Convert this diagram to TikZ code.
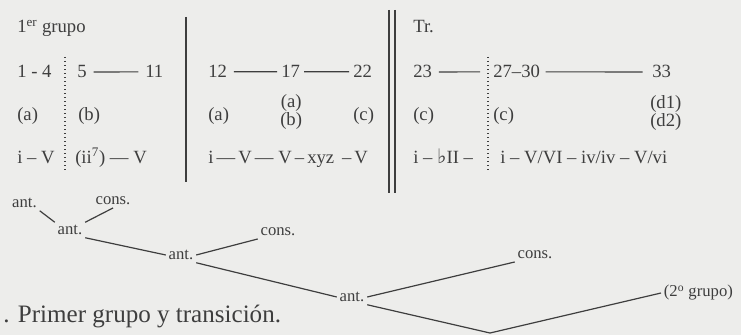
\documentclass[tikz,border=0pt]{standalone}
\usepackage{fontspec}
\setmainfont{Liberation Serif}
\newfontfamily\symfont{DejaVu Serif}
\definecolor{ink}{HTML}{3E3E3E}
\definecolor{bg}{HTML}{EDEDEB}
\begin{document}
\begin{tikzpicture}[x=0.75pt,y=-0.75pt,
  txt/.style={text=ink, inner sep=0pt, anchor=base west, font=\fontsize{14}{16}\selectfont},
  stack/.style={text=ink, inner sep=0pt, anchor=north west, align=center, font=\fontsize{14}{10}\selectfont},
  lbl/.style={text=ink, inner sep=2pt, font=\fontsize{12.5}{14}\selectfont},
  captxt/.style={text=ink, inner sep=0pt, anchor=base west, font=\fontsize{18.8}{20}\selectfont},
  rule/.style={draw=ink, line width=0.9pt},
  dots/.style={draw=ink, line width=1pt, dotted},
  tree/.style={draw=ink, line width=0.9pt}]
\fill[bg] (0,0) rectangle (741,335);
\useasboundingbox (0,0) rectangle (741,335);
% separators
\draw[dots] (65,57) -- (65,172);
\draw[rule] (186,17) -- (186,182);
\draw[rule] (389,10) -- (389,193);
\draw[rule] (395,10) -- (395,193);
\draw[dots] (488,57) -- (488,172);
% column 1
\node[txt] (g1) at (17,33) {1\textsuperscript{er} grupo};
\node[txt] (n14) at (17,78) {1 - 4};
\node[txt] (n5) at (77,78) {5};
\node[txt] (n11) at (145,78) {11};
\draw[rule, shorten <=5pt, shorten >=5pt] (n5.east) -- (n11.west);
\node[txt] (a1) at (17,120) {(a)};
\node[txt] (b1) at (78,120) {(b)};
\node[txt] (r41) at (17,163) {i -- V};
\node[txt] (r41b) at (75,163) {(ii\textsuperscript{7}) --- V};
% column 2
\node[txt] (n12) at (208,78) {12};
\node[txt] (n17) at (281,78) {17};
\node[txt] (n22) at (353,78) {22};
\draw[rule, shorten <=5pt, shorten >=3pt] (n12.east) -- (n17.west);
\draw[rule, shorten <=3pt, shorten >=3pt] (n17.east) -- (n22.west);
\node[txt] (a2) at (208,120) {(a)};
\node[stack] (ab2) at (280,94) {(a)\\(b)};
\node[txt] (c2) at (353,120) {(c)};
\node[txt] (r42) at (208,163) {i\,---\,V\,--- V\,--\,xyz \,--\,V};
% column 3
\node[txt] (tr) at (413,33) {Tr.};
\node[txt] (n23) at (413,78) {23};
\node[txt] (n2730) at (493,78) {27--30};
\node[txt] (n33) at (652,78) {33};
\draw[rule, shorten <=5pt, shorten >=9.75pt] (n23.east) -- (n2730.west);
\draw[rule, shorten <=4pt, shorten >=7pt] (n2730.east) -- (n33.west);
\node[txt] (c3) at (413,120) {(c)};
\node[txt] (c3b) at (493,120) {(c)};
\node[stack] (d12) at (650,95) {(d1)\\(d2)};
\node[txt] (r43) at (413,163) {i -- {\symfont\fontsize{15}{16}\selectfont ♭}II --};
\node[txt] (r43b) at (500,163) {i -- V/VI -- iv/iv -- V/vi};
% tree
\node[lbl] (t1) at (24.5,203) {ant.};
\node[lbl] (t2) at (113,201) {cons.};
\node[lbl] (t3) at (70,230) {ant.};
\node[lbl] (t4) at (278,232) {cons.};
\node[lbl] (t5) at (181,255) {ant.};
\node[lbl] (t6) at (352,297) {ant.};
\node[lbl] (t7) at (535,255) {cons.};
\node[lbl, anchor=west] (t8) at (661,293) {(2\textsuperscript{o} grupo)};
\coordinate (vb) at (490,333);
\draw[tree] (t1.south east) -- (t3.north west);
\draw[tree] (t2.south) -- (t3.north east);
\draw[tree] (t3.south east) -- (t5.west);
\draw[tree] (t5.east) -- (t4.south west);
\draw[tree] (t5.south east) -- (t6.west);
\draw[tree] (t6.east) -- (t7.south west);
\draw[tree] (t6.south east) -- (vb) -- (t8.west);
% caption
\node[captxt] (caption) at (3,322) {. Primer grupo y transición.};
\end{tikzpicture}
\end{document}
